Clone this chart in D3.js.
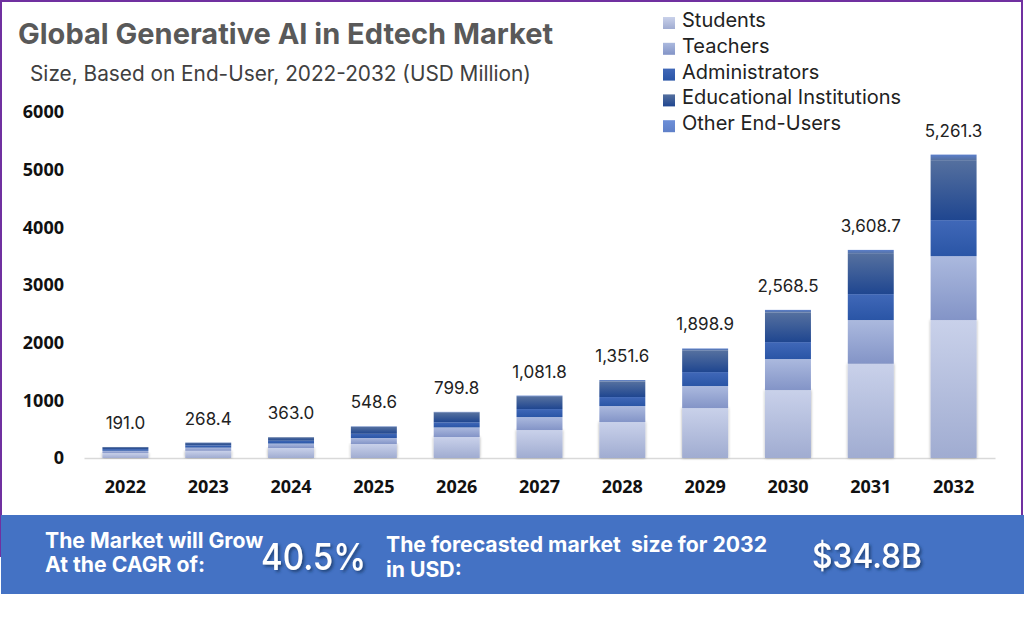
<!DOCTYPE html>
<html>
<head>
<meta charset="utf-8">
<title>Global Generative AI in Edtech Market</title>
<script src="https://cdn.jsdelivr.net/npm/d3@7"></script>
<style>
	html, body { margin: 0; padding: 0; background: #fff; }
	svg { display: block; }
	text { font-family: "Inter", "Open Sans", sans-serif; white-space: pre; }
</style>
</head>
<body>
<div id="chart"></div>
<script>
// values, USD million
var years = ["2022", "2023", "2024", "2025", "2026", "2027", "2028", "2029", "2030", "2031", "2032"];
var students = [85, 125, 173, 243, 364, 485, 624, 866, 1178, 1634, 2392];
var teachers = [40, 55, 77, 104, 166, 225, 277, 382, 538, 758, 1108];
var administrators = [30, 40, 50, 73, 90, 139, 156, 242, 294, 450, 625];
var institutions = [34, 45, 58, 120, 165, 211, 268, 370, 510, 698, 1040];
var others = [2, 3.4, 5, 8.6, 14.8, 21.8, 26.6, 38.9, 48.5, 68.7, 96.3];
var seriesNames = ["Students", "Teachers", "Administrators", "Educational Institutions", "Other End-Users"];
var yTicks = [0, 1000, 2000, 3000, 4000, 5000, 6000];

var w = 1024;
var h = 618;

var seriesValues = [students, teachers, administrators, institutions, others];

// one row per year, the form d3.stack wants
var rows = years.map(function(year, i) {
	var row = { year: year };
	seriesNames.forEach(function(name, s) { row[name] = seriesValues[s][i]; });
	return row;
});
var stacked = d3.stack().keys(seriesNames)(rows);

var x = d3.scaleBand().domain(years).range([84, 995]).paddingInner(0.445).paddingOuter(0.2225);
var y = d3.scaleLinear().domain([0, 6000]).range([458, 112]);

var gradientStops = [
	["#c9d1ea", "#a0acd1"],
	["#abb9de", "#8394c7"],
	["#4068b8", "#2a55a6"],
	["#55709f", "#1f4690"],
	["#5b7fcb", "#55709f"],
	["#6d8fd8", "#5f80c8"] // legend swatch of the last series
];

var svg = d3.select("#chart").append("svg").attr("width", w).attr("height", h);
var defs = svg.append("defs");

gradientStops.forEach(function(c, i) {
	var g = defs.append("linearGradient").attr("id", "grad" + i)
		.attr("x1", 0).attr("y1", 0).attr("x2", 0).attr("y2", 1);
	g.append("stop").attr("offset", "0%").attr("stop-color", c[0]);
	g.append("stop").attr("offset", "100%").attr("stop-color", c[1]);
});

var barShadow = defs.append("filter").attr("id", "barShadow")
	.attr("x", "-15%").attr("y", "-5%").attr("width", "130%").attr("height", "110%");
barShadow.append("feDropShadow").attr("dx", 0).attr("dy", 0).attr("stdDeviation", 1.5)
	.attr("flood-color", "#000").attr("flood-opacity", 0.35);

var textShadow = defs.append("filter").attr("id", "textShadow")
	.attr("x", "-10%").attr("y", "-20%").attr("width", "125%").attr("height", "150%");
textShadow.append("feDropShadow").attr("dx", 2).attr("dy", 2).attr("stdDeviation", 1.5)
	.attr("flood-color", "#1f3864").attr("flood-opacity", 0.8);

// purple frame, the left side runs on behind the band
svg.append("rect").attr("x", 1).attr("y", 1).attr("width", 1021).attr("height", 555)
	.attr("fill", "#fff").attr("stroke", "#7030a0").attr("stroke-width", 2);

svg.append("text").attr("x", 18).attr("y", 44)
	.attr("font-size", 29).attr("font-weight", 700).attr("fill", "#595959")
	.text("Global Generative AI in Edtech Market");
svg.append("text").attr("x", 30).attr("y", 81)
	.attr("font-size", 20.8).attr("fill", "#404040")
	.text("Size, Based on End-User, 2022-2032 (USD Million)");

// axes
var yAxis = svg.append("g").attr("transform", "translate(64,0)")
	.call(d3.axisLeft(y).tickValues(yTicks).tickSize(0).tickPadding(0).tickFormat(d3.format("d")));
yAxis.select(".domain").remove();
yAxis.selectAll("text").style("font-family", "'Open Sans'").attr("font-size", 18)
	.attr("font-weight", 700).attr("fill", "#111");

var xAxis = svg.append("g").attr("transform", "translate(0,458)")
	.call(d3.axisBottom(x).tickSize(0).tickPadding(22));
xAxis.select(".domain").attr("stroke", "#d9d9d9").attr("stroke-width", 1.5);
xAxis.selectAll("text").style("font-family", "'Open Sans'").attr("font-size", 18)
	.attr("font-weight", 700).attr("fill", "#111");

// stacked bars
var layers = svg.selectAll("g.layer").data(stacked).enter().append("g").attr("class", "layer");
layers.each(function(layer, i) {
	d3.select(this).selectAll("rect").data(layer).enter().append("rect")
		.attr("x", function(d) { return x(d.data.year); })
		.attr("y", function(d) { return y(d[1]); })
		.attr("width", x.bandwidth())
		.attr("height", function(d) { return y(d[0]) - y(d[1]); })
		.attr("fill", "url(#grad" + i + ")")
		.attr("filter", i == 0 ? "url(#barShadow)" : null);
});

// totals above the bars
var fmt = d3.format(",.1f");
svg.selectAll("text.total").data(rows).enter().append("text")
	.attr("class", "total")
	.attr("x", function(d) { return x(d.year) + x.bandwidth() / 2; })
	.attr("y", function(d, i) { return y(d3.sum(seriesValues, function(v) { return v[i]; })) - 18; })
	.attr("text-anchor", "middle").attr("font-size", 17).attr("fill", "#222")
	.text(function(d, i) { return fmt(d3.sum(seriesValues, function(v) { return v[i]; })); });

// legend
var legend = svg.selectAll("g.legend").data(seriesNames).enter().append("g")
	.attr("class", "legend")
	.attr("transform", function(d, i) { return "translate(663," + (17 + i * 25.8) + ")"; });
legend.append("rect").attr("width", 12).attr("height", 12)
	.attr("fill", function(d, i) { return "url(#grad" + (i == 4 ? 5 : i) + ")"; });
legend.append("text").attr("x", 19).attr("y", 10).attr("font-size", 20).attr("fill", "#222")
	.text(function(d) { return d; });

// blue band at the bottom
svg.append("rect").attr("x", 1).attr("y", 515).attr("width", 1023).attr("height", 79).attr("fill", "#4472c4");

function bandText(px, py, size, weight, str, shadowLength) {
	var t = svg.append("text").attr("x", px).attr("y", py).attr("font-size", size)
		.attr("font-weight", weight).attr("fill", "#fff").text(str);
	// the big figures are drawn narrow in the reference
	if (shadowLength) {
		t.attr("filter", "url(#textShadow)").attr("textLength", shadowLength)
			.attr("lengthAdjust", "spacingAndGlyphs");
	}
}
bandText(45, 548, 21.2, 700, "The Market will Grow");
bandText(45, 572, 21.2, 700, "At the CAGR of:");
bandText(261, 570, 37, 500, "40.5%", 105);
bandText(386, 552, 21.2, 700, "The forecasted market  size for 2032");
bandText(386, 577, 21.2, 700, "in USD:");
bandText(812, 568, 34, 500, "$34.8B", 110);
</script>
</body>
</html>
